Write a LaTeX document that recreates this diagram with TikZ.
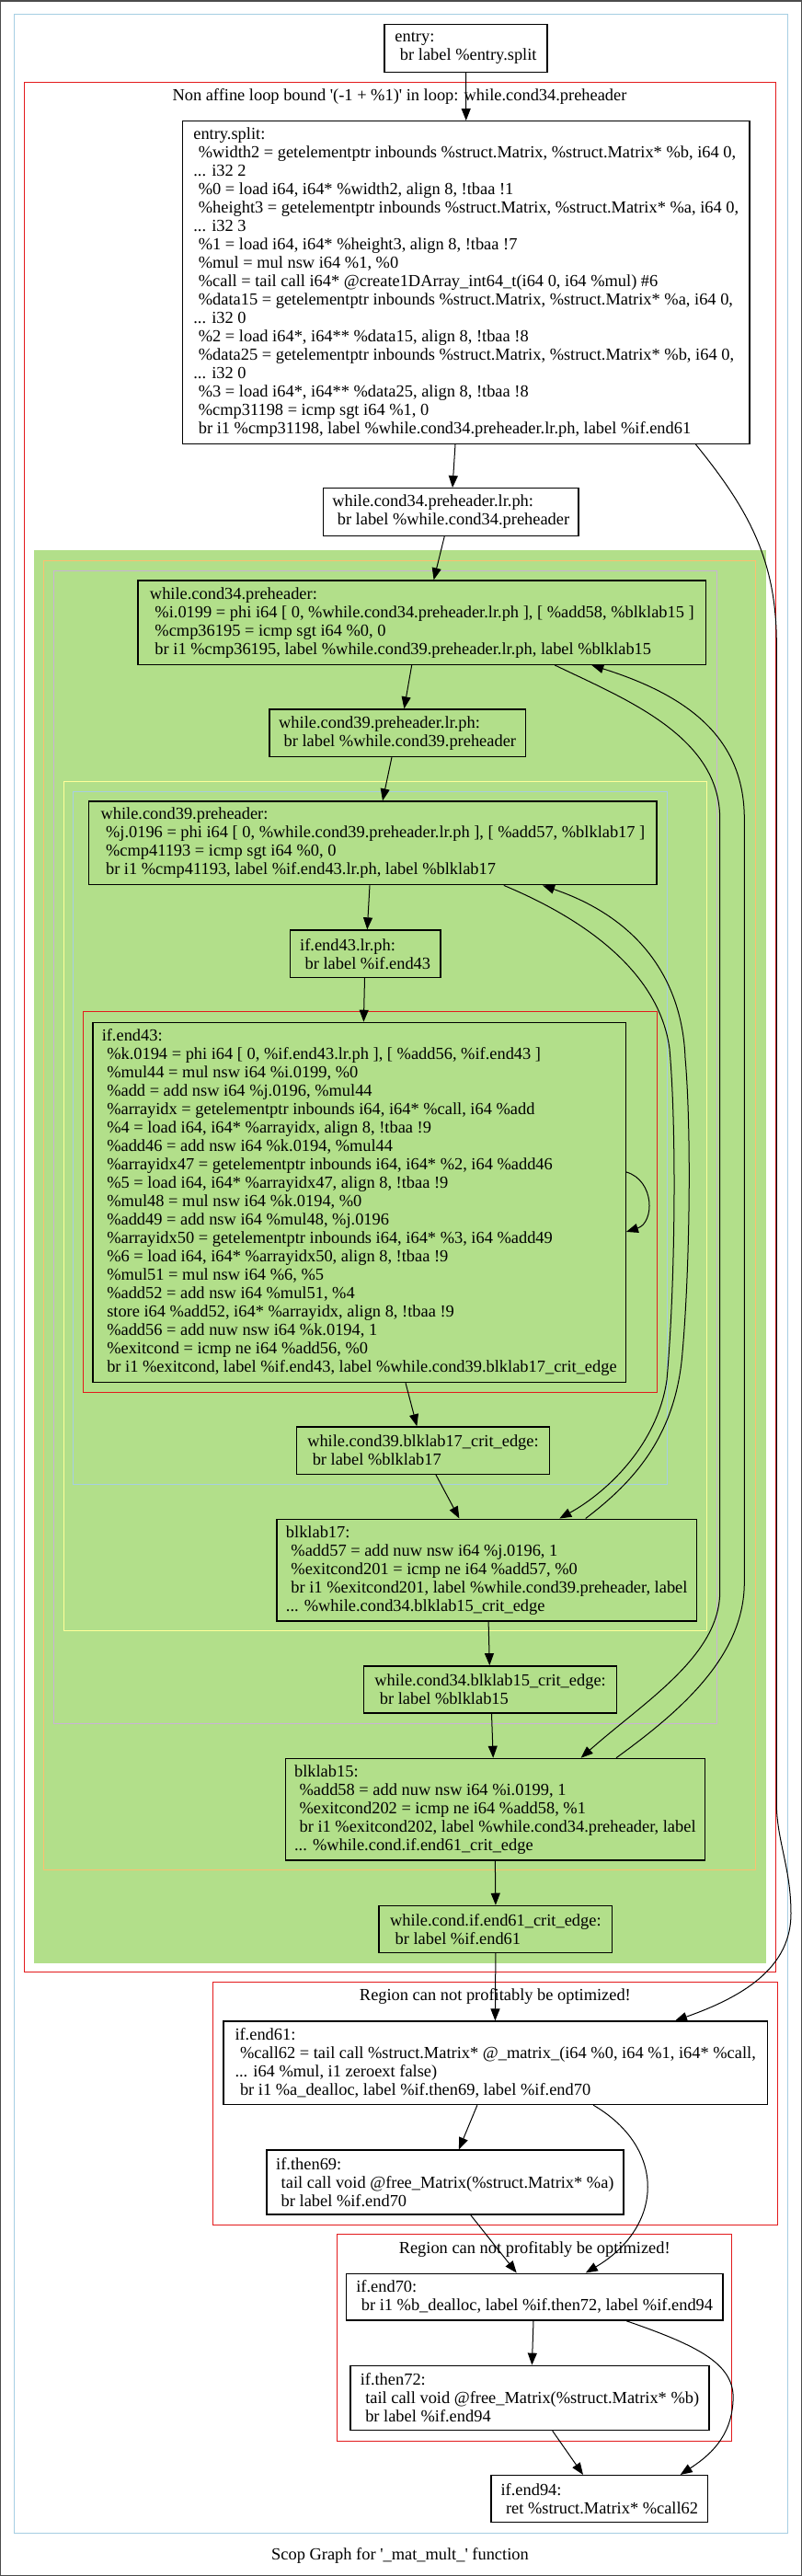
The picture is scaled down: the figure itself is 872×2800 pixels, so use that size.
\documentclass[tikz,border=0pt]{standalone}
\usepackage{fontspec}
\setmainfont{Liberation Serif}[Ligatures=TeXOff]
\usetikzlibrary{arrows.meta}
\definecolor{cblue}{HTML}{A6CEE3}
\definecolor{cred}{HTML}{E31A1C}
\definecolor{cgreen}{HTML}{B2DF8A}
\definecolor{corange}{HTML}{FDBF6F}
\definecolor{clav}{HTML}{CAB2D6}
\definecolor{cyel}{HTML}{FFFF99}
\newcommand\ind{\hspace*{5.5bp}}
\newcommand\fsz{\fontsize{18.4bp}{20bp}\selectfont}
\tikzset{
  blk/.style={draw=black, line width=1.4bp, align=left, inner xsep=0pt, inner ysep=0pt, font=\fsz},
  lbl/.style={font=\fsz, inner sep=0pt},
  edge/.style={draw=black, line width=1bp, -{Triangle[length=13bp,width=10bp]}},
  clus/.style={line width=1bp},
}
\begin{document}
\begin{tikzpicture}[x=1bp,y=-1bp]
\useasboundingbox (0,0) rectangle (872,2800);
\fill[white] (0,0) rectangle (872,2800);
\draw[line width=1.5bp, black!70] (0.75,0.75) rectangle (871.25,2799.25);
% clusters
\draw[clus, cblue] (15.6,15.7) rectangle (856.5,2753);
\draw[clus, cred] (26,89) rectangle (843,2143);
\fill[cgreen] (36.7,598.3) rectangle (832.6,2133.7);
\draw[clus, corange] (47.8,609.3) rectangle (821.5,2032.7);
\draw[clus, clav] (58.4,620) rectangle (779.2,1873);
\draw[clus, cyel] (69,849) rectangle (768.6,1772.9);
\draw[clus, cblue] (79.5,860) rectangle (725.8,1613.3);
\draw[clus, cred] (90.7,1099.9) rectangle (714.7,1513.2);
\draw[clus, cred] (231.4,2154.4) rectangle (845.4,2418.4);
\draw[clus, cred] (366.5,2428.9) rectangle (795.9,2653);
% cluster labels
\node[lbl] (l1) at (434.5,105) {Non affine loop bound '(-1 + \%1)' in loop: while.cond34.preheader};
\node[lbl] (l2) at (538.4,2169.5) {Region can not profitably be optimized!};
\node[lbl] (l3) at (581.2,2445) {Region can not profitably be optimized!};
\node[lbl] (cap) at (435,2778) {Scop Graph for '\_mat\_mult\_' function};
% blocks
\node[blk, minimum width=177bp, minimum height=51.6bp] (entry) at (506.5,52.5) {entry:\\\ind br label \%entry.split};
\node[blk, minimum width=616.5bp, minimum height=350.6bp] (split) at (506.75,307) {entry.split:\\
\ind\%width2 = getelementptr inbounds \%struct.Matrix, \%struct.Matrix* \%b, i64 0,\\
... i32 2\\
\ind\%0 = load i64, i64* \%width2, align 8, !tbaa !1\\
\ind\%height3 = getelementptr inbounds \%struct.Matrix, \%struct.Matrix* \%a, i64 0,\\
... i32 3\\
\ind\%1 = load i64, i64* \%height3, align 8, !tbaa !7\\
\ind\%mul = mul nsw i64 \%1, \%0\\
\ind\%call = tail call i64* @create1DArray\_int64\_t(i64 0, i64 \%mul) \#6\\
\ind\%data15 = getelementptr inbounds \%struct.Matrix, \%struct.Matrix* \%a, i64 0,\\
... i32 0\\
\ind\%2 = load i64*, i64** \%data15, align 8, !tbaa !8\\
\ind\%data25 = getelementptr inbounds \%struct.Matrix, \%struct.Matrix* \%b, i64 0,\\
... i32 0\\
\ind\%3 = load i64*, i64** \%data25, align 8, !tbaa !8\\
\ind\%cmp31198 = icmp sgt i64 \%1, 0\\
\ind br i1 \%cmp31198, label \%while.cond34.preheader.lr.ph, label \%if.end61};
\node[blk, minimum width=277.5bp, minimum height=51.6bp] (lrph34) at (490.25,556.5) {while.cond34.preheader.lr.ph:\\\ind br label \%while.cond34.preheader};
\node[blk, minimum width=617.3bp, minimum height=91.3bp] (c34) at (458.85,676.65) {while.cond34.preheader:\\
\ind\%i.0199 = phi i64 [ 0, \%while.cond34.preheader.lr.ph ], [ \%add58, \%blklab15 ]\\
\ind\%cmp36195 = icmp sgt i64 \%0, 0\\
\ind br i1 \%cmp36195, label \%while.cond39.preheader.lr.ph, label \%blklab15};
\node[blk, minimum width=278.2bp, minimum height=51.3bp] (lrph39) at (432.1,796.65) {while.cond39.preheader.lr.ph:\\\ind br label \%while.cond39.preheader};
\node[blk, minimum width=617.3bp, minimum height=90.7bp] (c39) at (405.45,916.35) {while.cond39.preheader:\\
\ind\%j.0196 = phi i64 [ 0, \%while.cond39.preheader.lr.ph ], [ \%add57, \%blklab17 ]\\
\ind\%cmp41193 = icmp sgt i64 \%0, 0\\
\ind br i1 \%cmp41193, label \%if.end43.lr.ph, label \%blklab17};
\node[blk, minimum width=163.5bp, minimum height=51.4bp] (lrph43) at (397.15,1036.7) {if.end43.lr.ph:\\\ind br label \%if.end43};
\node[blk, minimum width=579bp, minimum height=391.1bp] (e43) at (390.7,1306.95) {if.end43:\\
\ind\%k.0194 = phi i64 [ 0, \%if.end43.lr.ph ], [ \%add56, \%if.end43 ]\\
\ind\%mul44 = mul nsw i64 \%i.0199, \%0\\
\ind\%add = add nsw i64 \%j.0196, \%mul44\\
\ind\%arrayidx = getelementptr inbounds i64, i64* \%call, i64 \%add\\
\ind\%4 = load i64, i64* \%arrayidx, align 8, !tbaa !9\\
\ind\%add46 = add nsw i64 \%k.0194, \%mul44\\
\ind\%arrayidx47 = getelementptr inbounds i64, i64* \%2, i64 \%add46\\
\ind\%5 = load i64, i64* \%arrayidx47, align 8, !tbaa !9\\
\ind\%mul48 = mul nsw i64 \%k.0194, \%0\\
\ind\%add49 = add nsw i64 \%mul48, \%j.0196\\
\ind\%arrayidx50 = getelementptr inbounds i64, i64* \%3, i64 \%add49\\
\ind\%6 = load i64, i64* \%arrayidx50, align 8, !tbaa !9\\
\ind\%mul51 = mul nsw i64 \%6, \%5\\
\ind\%add52 = add nsw i64 \%mul51, \%4\\
\ind store i64 \%add52, i64* \%arrayidx, align 8, !tbaa !9\\
\ind\%add56 = add nuw nsw i64 \%k.0194, 1\\
\ind\%exitcond = icmp ne i64 \%add56, \%0\\
\ind br i1 \%exitcond, label \%if.end43, label \%while.cond39.blklab17\_crit\_edge};
\node[blk, minimum width=274.7bp, minimum height=51.3bp] (crit17) at (459.95,1576.55) {while.cond39.blklab17\_crit\_edge:\\\ind br label \%blklab17};
\node[blk, minimum width=456.6bp, minimum height=110.9bp] (b17) at (529.2,1706.65) {blklab17:\\
\ind\%add57 = add nuw nsw i64 \%j.0196, 1\\
\ind\%exitcond201 = icmp ne i64 \%add57, \%0\\
\ind br i1 \%exitcond201, label \%while.cond39.preheader, label\\
... \%while.cond34.blklab15\_crit\_edge};
\node[blk, minimum width=275.3bp, minimum height=51.2bp] (crit15) at (533.05,1836.4) {while.cond34.blklab15\_crit\_edge:\\\ind br label \%blklab15};
\node[blk, minimum width=456.1bp, minimum height=110.6bp] (b15) at (538.35,1966.7) {blklab15:\\
\ind\%add58 = add nuw nsw i64 \%i.0199, 1\\
\ind\%exitcond202 = icmp ne i64 \%add58, \%1\\
\ind br i1 \%exitcond202, label \%while.cond34.preheader, label\\
... \%while.cond.if.end61\_crit\_edge};
\node[blk, minimum width=253.6bp, minimum height=50.8bp] (crit61) at (538.9,2096.8) {while.cond.if.end61\_crit\_edge:\\\ind br label \%if.end61};
\node[blk, minimum width=591.3bp, minimum height=90.4bp] (e61) at (538.65,2242.3) {if.end61:\\
\ind\%call62 = tail call \%struct.Matrix* @\_matrix\_(i64 \%0, i64 \%1, i64* \%call,\\
... i64 \%mul, i1 zeroext false)\\
\ind br i1 \%a\_dealloc, label \%if.then69, label \%if.end70};
\node[blk, minimum width=388.2bp, minimum height=69.8bp] (t69) at (483.9,2372) {if.then69:\\
\ind tail call void @free\_Matrix(\%struct.Matrix* \%a)\\
\ind br label \%if.end70};
\node[blk, minimum width=409.4bp, minimum height=50.9bp] (e70) at (581.2,2496.65) {if.end70:\\\ind br i1 \%b\_dealloc, label \%if.then72, label \%if.end94};
\node[blk, minimum width=389.9bp, minimum height=70.2bp] (t72) at (575.95,2606.4) {if.then72:\\
\ind tail call void @free\_Matrix(\%struct.Matrix* \%b)\\
\ind br label \%if.end94};
\node[blk, minimum width=235.7bp, minimum height=51bp] (e94) at (651.85,2716.1) {if.end94:\\\ind ret \%struct.Matrix* \%call62};
% edges
\draw[edge] (entry.south) -- (split.north);
\draw[edge] ([xshift=-11.75bp]split.south) -- ([xshift=1.75bp]lrph34.north);
\draw[edge] ([xshift=249.65bp]split.south) .. controls (815,555) and (844.3,610) .. (844.3,700) -- (844.3,1960) .. controls (844.3,2000) and (860,2030) .. (860,2080) .. controls (860,2135) and (815,2168) .. ([xshift=195.35bp]e61.north);
\draw[edge] ([xshift=-7bp]lrph34.south) -- ([xshift=12.75bp]c34.north);
\draw[edge] ([xshift=-11.15bp]c34.south) -- ([xshift=7.3bp]lrph39.north);
\draw[edge] ([xshift=144.45bp]c34.south) .. controls (680,760) and (782.7,800) .. (782.7,890) -- (782.7,1730) .. controls (782.7,1800) and (700,1850) .. ([xshift=93.35bp]b15.north);
\draw[edge] ([xshift=-6.1bp]lrph39.south) -- ([xshift=10.55bp]c39.north);
\draw[edge] ([xshift=-3.45bp]c39.south) -- ([xshift=2.15bp]lrph43.north);
\draw[edge] ([xshift=142.35bp]c39.south) .. controls (650,1005) and (718,1065) .. (728,1140) .. controls (736,1230) and (734,1400) .. (725,1500) .. controls (715,1570) and (660,1622) .. ([xshift=79.1bp]b17.north);
\draw[edge] ([xshift=-0.65bp]lrph43.south) -- ([xshift=4.7bp]e43.north);
\draw[edge] ([yshift=33bp]e43.east) .. controls (712,1283) and (712,1329) .. ([yshift=-32bp]e43.east);
\draw[edge] ([xshift=50.3bp]e43.south) -- ([xshift=-6.65bp]crit17.north);
\draw[edge] ([xshift=13.95bp]crit17.south) -- ([xshift=-29.8bp]b17.north);
\draw[edge] ([xshift=1.9bp]b17.south) -- ([xshift=-0.75bp]crit15.north);
\draw[edge] ([xshift=107.5bp]b17.north) .. controls (690,1610) and (735,1560) .. (742,1470) .. controls (750,1380) and (752,1230) .. (745,1150) .. controls (742,1070) and (700,1000) .. ([xshift=184.55bp]c39.south);
\draw[edge] ([xshift=1.45bp]crit15.south) -- ([xshift=-2.15bp]b15.north);
\draw[edge] (b15.south) -- (crit61.north);
\draw[edge] ([xshift=131.65bp]b15.north) .. controls (740,1860) and (809.3,1800) .. (809.3,1720) -- (809.3,890) .. controls (809.3,800) and (745,755) .. ([xshift=184.45bp]c34.south);
\draw[edge] (crit61.south) -- ([xshift=-0.25bp]e61.north);
\draw[edge] ([xshift=-19.75bp]e61.south) -- ([xshift=15bp]t69.north);
\draw[edge] ([xshift=106.55bp]e61.south) .. controls (725,2335) and (722,2420) .. ([xshift=55.6bp]e70.north);
\draw[edge] ([xshift=27.8bp]t69.south) -- ([xshift=-19.5bp]e70.north);
\draw[edge] ([xshift=-1.2bp]e70.south) -- ([xshift=2.45bp]t72.north);
\draw[edge] ([xshift=100.1bp]e70.south) .. controls (760,2550) and (800,2570) .. (797,2610) .. controls (795,2650) and (770,2670) .. ([xshift=87.85bp]e94.north);
\draw[edge] ([xshift=24.75bp]t72.south) -- ([xshift=-17.85bp]e94.north);
\end{tikzpicture}
\end{document}
